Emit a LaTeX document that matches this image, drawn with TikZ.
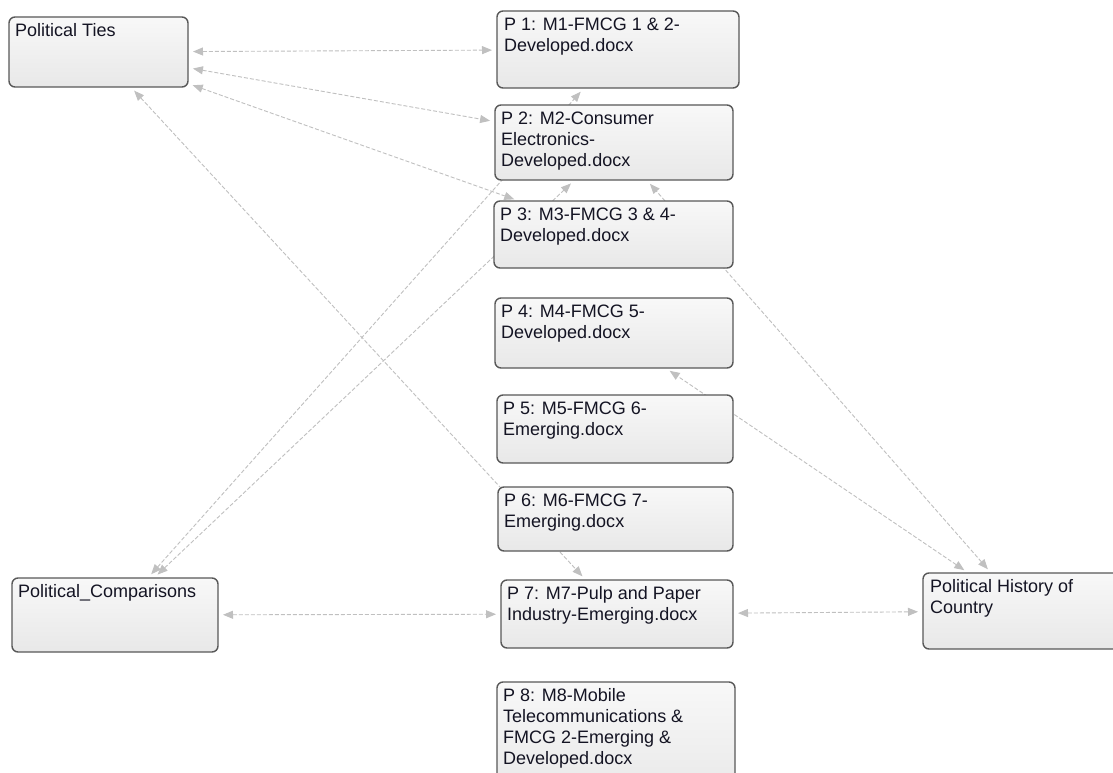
\documentclass[tikz,border=0pt]{standalone}
\usepackage{fontspec}
\setmainfont{Liberation Sans}
\usetikzlibrary{arrows.meta,backgrounds}
\definecolor{edgegray}{RGB}{192,192,192}
\definecolor{boxborder}{RGB}{88,88,88}
\definecolor{boxtop}{RGB}{248,248,248}
\definecolor{boxbot}{RGB}{232,232,232}
\definecolor{txt}{RGB}{20,20,35}
\tikzset{
  box/.style={draw=boxborder, line width=1.4pt, rounded corners=6pt,
    top color=boxtop, bottom color=boxbot, inner sep=0pt, outer sep=0pt,
    anchor=north west},
  lbl/.style={anchor=north west, inner sep=0pt, align=left,
    font=\fontsize{18}{21}\selectfont, text=txt},
  conn/.style={draw=edgegray, line width=0.9pt, dash pattern=on 4pt off 2pt,
    {Triangle[length=10pt,width=8pt]}-{Triangle[length=10pt,width=8pt]},
    shorten <=5pt, shorten >=5pt}
}
\newcommand\drawbox[7]{%
  \node[box, minimum width={#4-#2}, minimum height={#5-#3}] (#1) at (#2,#3) {};
  \node[lbl] (#1t) at ([xshift=#6pt,yshift=-6.5pt]#1.north west) {#7};
}
\begin{document}
\begin{tikzpicture}[x=1pt,y=-1pt]
\useasboundingbox (0,0) rectangle (1113,773);
\clip (0,0) rectangle (1113,773);
\drawbox{pt}{9}{17}{188}{87}{6}{Political Ties}
\drawbox{p1}{497}{11}{739}{88}{7}{P 1: M1-FMCG 1 \& 2-\\Developed.docx}
\drawbox{p2}{495}{105}{733}{180}{6}{P 2: M2-Consumer\\Electronics-\\Developed.docx}
\drawbox{p3}{494}{201}{733}{268}{6}{P 3: M3-FMCG 3 \& 4-\\Developed.docx}
\drawbox{p4}{495}{298}{733}{368}{6}{P 4: M4-FMCG 5-\\Developed.docx}
\drawbox{p5}{497}{395}{733}{463}{6}{P 5: M5-FMCG 6-\\Emerging.docx}
\drawbox{p6}{498}{487}{733}{551}{6}{P 6: M6-FMCG 7-\\Emerging.docx}
\drawbox{p7}{501}{580}{733}{648}{6}{P 7: M7-Pulp and Paper\\Industry-Emerging.docx}
\drawbox{p8}{497}{682}{735}{800}{6}{P 8: M8-Mobile\\Telecommunications \&\\FMCG 2-Emerging \&\\Developed.docx}
\drawbox{pc}{12}{578}{218}{652}{6}{Political\_Comparisons}
\drawbox{phc}{923}{573}{1126}{649}{7}{Political History of\\Country}
\begin{pgfonlayer}{background}
  \fill[white] (0,0) rectangle (1113,773);
  \draw[conn] (pt) -- (p1);
  \draw[conn] (pt) -- (p2);
  \draw[conn] (pt) -- (p3);
  \draw[conn] (pt) -- (p7);
  \draw[conn] (pc) -- (p1);
  \draw[conn] (pc) -- (p2);
  \draw[conn] (pc) -- (p7);
  \draw[conn] (phc) -- (p2);
  \draw[conn] (phc) -- (p4);
  \draw[conn] (p7) -- (phc);
\end{pgfonlayer}
\end{tikzpicture}
\end{document}
